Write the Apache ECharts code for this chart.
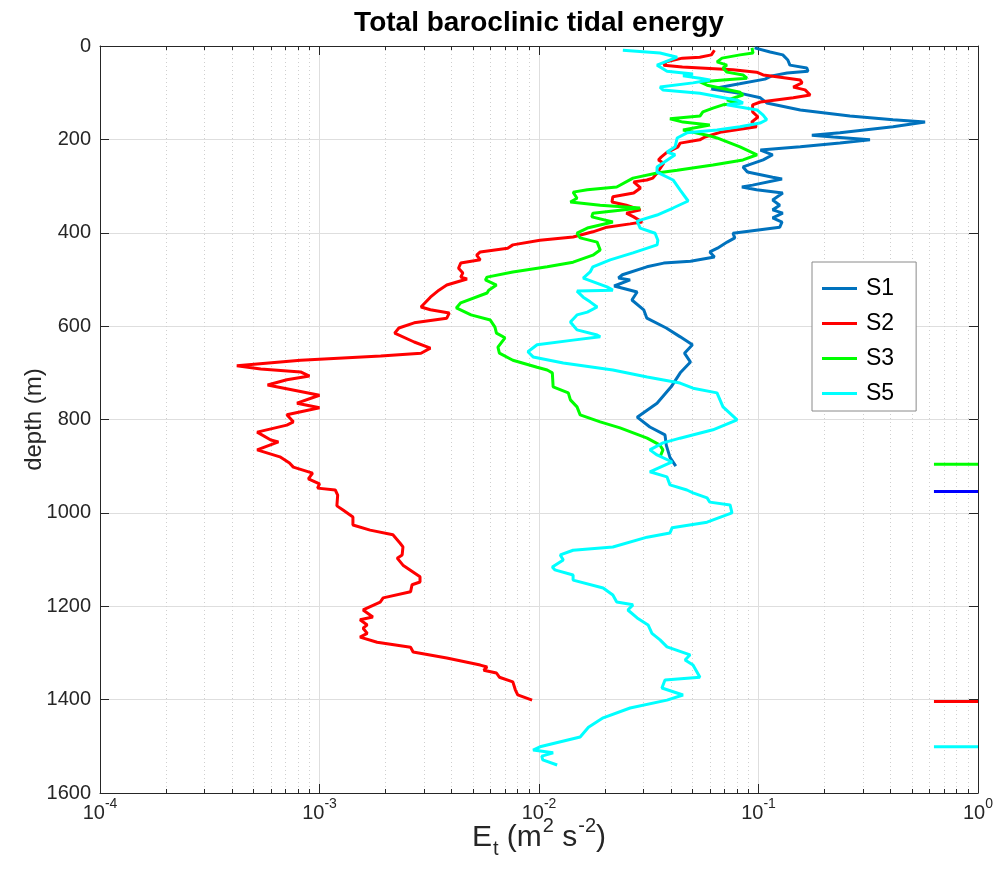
<!DOCTYPE html>
<html>
<head>
<meta charset="utf-8">
<script src="https://cdn.jsdelivr.net/npm/echarts@6/dist/echarts.min.js"></script>
<style>html,body{margin:0;padding:0;background:#fff}#chart{width:1000px;height:877px}</style>
</head>
<body>
<div id="chart"></div>
<script>
// ---------------- data ----------------
const s1Depth = [4,13,19,30,41,47,54,58,64,71,81,92,101,111,122,137,150,158,163,173,186,191,195,201,208,216,223,233,244,259,270,281,285,298,302,308,315,330,341,351,358,368,377,388,401,411,420,433,441,452,461,465,473,490,497,501,514,527,544,565,583,604,623,640,658,677,700,730,765,795,816,833,855,881,900];
const s1Energy = [0.096,0.113,0.129,0.136,0.139,0.166,0.168,0.135,0.115,0.107,0.082,0.061,0.082,0.102,0.109,0.155,0.261,0.41,0.574,0.41,0.235,0.175,0.219,0.322,0.235,0.155,0.102,0.116,0.105,0.085,0.089,0.116,0.128,0.094,0.084,0.098,0.129,0.116,0.125,0.116,0.129,0.116,0.128,0.125,0.0765,0.078,0.072,0.065,0.060,0.063,0.049,0.037,0.031,0.024,0.023,0.026,0.022,0.028,0.0265,0.030,0.031,0.038,0.044,0.050,0.046,0.049,0.044,0.040,0.0345,0.028,0.032,0.0375,0.038,0.0395,0.042];

const s2Depth = [9,19,24,26,34,41,45,51,56,62,66,73,79,88,94,105,111,120,126,141,152,163,173,184,195,201,208,216,229,238,244,251,272,283,287,291,304,315,323,334,341,351,358,366,377,381,388,398,409,416,426,433,441,448,458,465,476,486,495,499,512,523,538,559,565,572,583,593,604,615,634,647,658,664,673,685,692,698,707,715,726,748,765,775,790,805,812,827,844,848,865,880,893,902,915,927,938,947,951,962,985,994,1009,1026,1037,1047,1065,1073,1090,1097,1112,1137,1148,1154,1169,1182,1191,1208,1223,1229,1240,1247,1258,1266,1277,1288,1298,1311,1326,1330,1337,1343,1352,1362,1379,1390,1401];
const s2Energy = [0.063,0.061,0.054,0.045,0.038,0.037,0.045,0.0765,0.098,0.105,0.121,0.155,0.158,0.144,0.163,0.172,0.144,0.102,0.094,0.094,0.0995,0.093,0.098,0.068,0.057,0.054,0.044,0.043,0.038,0.036,0.035,0.037,0.0345,0.033,0.031,0.027,0.029,0.027,0.0217,0.0215,0.025,0.029,0.025,0.027,0.0295,0.026,0.0204,0.0176,0.0143,0.0101,0.0076,0.0072,0.0054,0.0052,0.0054,0.0044,0.0043,0.0045,0.0044,0.0047,0.0038,0.0035,0.0032,0.0029,0.0032,0.0039,0.0038,0.0027,0.0023,0.0022,0.0027,0.0032,0.0029,0.0019,0.00082,0.00042,0.00054,0.00082,0.0009,0.00071,0.00058,0.001,0.00079,0.001,0.00071,0.00076,0.00071,0.00052,0.0006,0.00065,0.00052,0.00066,0.00073,0.00076,0.00093,0.00089,0.001,0.00098,0.00118,0.00121,0.0012,0.00128,0.00142,0.00142,0.0017,0.00216,0.00233,0.0024,0.00238,0.00226,0.0024,0.00287,0.00287,0.00264,0.0026,0.00195,0.00189,0.00158,0.00175,0.00153,0.00165,0.00158,0.00165,0.00153,0.00183,0.0026,0.00267,0.0038,0.0054,0.0058,0.0056,0.0064,0.0066,0.0076,0.0078,0.008,0.0093];

const s3Depth = [4,15,19,26,34,41,47,56,62,69,73,77,84,99,105,116,122,126,133,141,150,156,163,169,180,191,197,216,233,244,255,266,272,283,302,308,313,326,334,341,347,358,366,377,390,401,411,420,437,448,463,473,484,495,501,512,523,529,550,561,576,587,602,615,625,645,658,673,688,694,700,730,743,758,773,790,805,818,840,855,865,880];
const s3Energy = [0.0934,0.0944,0.0824,0.0682,0.0647,0.0718,0.0689,0.0718,0.085,0.0886,0.0689,0.0541,0.0583,0.0824,0.085,0.0718,0.0824,0.0689,0.062,0.0558,0.0541,0.0395,0.0453,0.060,0.0453,0.0583,0.0647,0.0824,0.0985,0.085,0.062,0.0426,0.0345,0.0268,0.0226,0.0166,0.0143,0.0149,0.0139,0.019,0.0289,0.0176,0.0174,0.0217,0.0166,0.0149,0.0154,0.0184,0.019,0.0176,0.0143,0.0109,0.0076,0.0058,0.0057,0.0064,0.0059,0.0058,0.0044,0.0042,0.0049,0.006,0.0063,0.0064,0.007,0.0065,0.0066,0.0076,0.0098,0.0109,0.0115,0.0116,0.0136,0.0139,0.0149,0.0154,0.019,0.0234,0.0311,0.0356,0.0367,0.0356];

const s5Depth = [9,15,24,41,54,60,64,69,73,79,88,94,101,116,122,126,137,148,158,165,173,180,186,197,216,227,233,259,270,287,308,332,347,362,375,390,401,416,426,443,458,473,484,497,516,523,525,538,548,559,570,576,591,598,608,619,623,630,640,655,666,679,694,709,722,733,743,773,801,822,840,850,865,876,891,912,923,940,951,957,968,977,983,1000,1020,1032,1043,1052,1073,1080,1090,1101,1116,1122,1133,1144,1161,1176,1191,1197,1208,1225,1240,1258,1272,1287,1304,1315,1326,1352,1358,1375,1390,1401,1418,1439,1459,1480,1501,1508,1514,1521,1529,1540];
const s5Energy = [0.0241,0.0356,0.0426,0.0345,0.0383,0.0503,0.0453,0.0541,0.060,0.0503,0.0356,0.0367,0.0541,0.0799,0.085,0.0718,0.0985,0.105,0.109,0.1016,0.0824,0.0647,0.0472,0.0426,0.0417,0.0383,0.0417,0.0345,0.0345,0.0408,0.0439,0.0478,0.0408,0.0345,0.028,0.0289,0.0338,0.0348,0.0345,0.0268,0.0211,0.0176,0.0171,0.0159,0.0204,0.0217,0.0149,0.0159,0.0171,0.0184,0.0166,0.0149,0.0139,0.0143,0.0149,0.0184,0.019,0.0143,0.0098,0.0089,0.0094,0.0129,0.0217,0.0311,0.0439,0.0503,0.0647,0.0689,0.0799,0.062,0.0439,0.0367,0.032,0.0345,0.0404,0.032,0.0383,0.0395,0.0472,0.0503,0.0583,0.060,0.0742,0.0757,0.0583,0.0404,0.0395,0.0311,0.0217,0.0143,0.0125,0.0129,0.0115,0.0118,0.0143,0.0143,0.0196,0.0217,0.0226,0.0268,0.0254,0.028,0.0314,0.0327,0.0356,0.0383,0.0488,0.0463,0.0503,0.0541,0.0375,0.0363,0.0453,0.0383,0.026,0.0196,0.0168,0.0154,0.0101,0.0094,0.0116,0.0103,0.0104,0.0121];

// short bottom-depth marks at the right edge
const bottomDepths = [896, 954, 1404, 1501];
const bottomEnergyRange = [0.63, 1];

const seriesNames = ['S1', 'S2', 'S3', 'S5'];
const xTickDecades = [1e-4, 1e-3, 1e-2, 1e-1, 1];

// ---------------- styles ----------------
const FONT = '"Liberation Sans", Arial, Helvetica, sans-serif';
const seriesColors = ['#0072BD', '#FF0000', '#00FF00', '#00FFFF'];
const bottomColors = ['#00FF00', '#0000FF', '#FF0000', '#00FFFF'];
const AX = '#262626';

function zip(depths, energies) { return depths.map((d, i) => [energies[i], d]); }
const curves = [zip(s1Depth, s1Energy), zip(s2Depth, s2Energy), zip(s3Depth, s3Energy), zip(s5Depth, s5Energy)];

const series = curves.map((data, i) => ({
  type: 'line', name: seriesNames[i], data: data,
  xAxisIndex: 0, yAxisIndex: 0,
  showSymbol: false, symbol: 'none', z: 3,
  lineStyle: { color: seriesColors[i], width: 3 },
  itemStyle: { color: seriesColors[i] },
  emphasis: { disabled: true }
}));
bottomDepths.forEach((d, i) => {
  series.push({
    type: 'line', name: 'bottom' + i,
    data: [[bottomEnergyRange[0], d], [bottomEnergyRange[1], d]],
    xAxisIndex: 0, yAxisIndex: 0, showSymbol: false, symbol: 'none', z: 3,
    lineStyle: { color: bottomColors[i], width: 3 }, emphasis: { disabled: true }
  });
});

const tickRich = {
  b: { fontSize: 20, color: AX, fontFamily: FONT, verticalAlign: 'top', padding: [6, 0, 0, 0] },
  s: { fontSize: 14, color: AX, fontFamily: FONT, verticalAlign: 'top', padding: [0, 0, 0, 0] }
};
const nameRich = {
  e: { fontSize: 30, color: AX, fontFamily: FONT, verticalAlign: 'top', padding: [7, 0, 0, 0] },
  u: { fontSize: 20, color: AX, fontFamily: FONT, verticalAlign: 'top', padding: [0, 0, 0, 1] },
  t: { fontSize: 20, color: AX, fontFamily: FONT, verticalAlign: 'top', padding: [23, 0, 0, 1] }
};

function xAxisBase(pos, labels) {
  return {
    type: 'log', logBase: 10, min: xTickDecades[0], max: xTickDecades[xTickDecades.length - 1],
    position: pos,
    axisLine: { show: true, onZero: false, lineStyle: { color: AX, width: 1 } },
    axisTick: { show: true, inside: true, length: 9, lineStyle: { color: AX } },
    minorTick: { show: true, splitNumber: 9, length: 4, lineStyle: { color: AX } },
    axisLabel: labels ? {
      show: true, margin: 4,
      formatter: v => '{b|10}{s|' + Math.round(Math.log10(v)) + '}',
      rich: tickRich
    } : { show: false },
    splitLine: { show: labels, lineStyle: { color: '#dedede', width: 1 } },
    minorSplitLine: { show: labels, lineStyle: { color: '#cfcfcf', width: 1, type: [1, 3] } }
  };
}
const xBottom = xAxisBase('bottom', true);
xBottom.name = '{e|E}{t|t}{e| (m}{u|2}{e| s}{u|-2}{e|)}';
xBottom.nameLocation = 'middle';
xBottom.nameGap = 23;
xBottom.nameMoveOverlap = false;
xBottom.nameTextStyle = { rich: nameRich };

function yAxisBase(pos, labels) {
  return {
    type: 'value', inverse: true, min: 0, max: 1600, interval: 200, position: pos,
    axisLine: { show: true, onZero: false, lineStyle: { color: AX, width: 1 } },
    axisTick: { show: true, inside: true, length: 9, lineStyle: { color: AX } },
    axisLabel: labels ? { show: true, fontSize: 20, color: AX, fontFamily: FONT, margin: 9,
                          formatter: v => String(v) } : { show: false },
    splitLine: { show: labels, lineStyle: { color: '#dedede', width: 1 } }
  };
}
const yLeft = yAxisBase('left', true);
yLeft.name = 'depth (m)';
yLeft.nameLocation = 'middle';
yLeft.nameRotate = 90;
yLeft.nameGap = 54;
yLeft.nameMoveOverlap = false;
yLeft.nameTextStyle = { fontSize: 24, color: AX, fontFamily: FONT };

const option = {
  animation: false,
  backgroundColor: '#ffffff',
  textStyle: { fontFamily: FONT },
  grid: { left: 100, right: 22, top: 46, bottom: 84, containLabel: false },
  xAxis: [xBottom, xAxisBase('top', false)],
  yAxis: [yLeft, yAxisBase('right', false)],
  legend: {
    data: seriesNames, orient: 'vertical', left: 812, top: 262,
    icon: 'rect', itemWidth: 35, itemHeight: 3, itemGap: 12,
    padding: [15, 22, 6, 10],
    backgroundColor: '#ffffff', borderColor: '#8a8a8a', borderWidth: 1,
    textStyle: { fontSize: 23, color: '#000', fontFamily: FONT, padding: [0, 0, 0, 4] },
    selectedMode: false
  },
  graphic: [{
    type: 'text', x: 539, y: 23, z: 10,
    style: { text: 'Total baroclinic tidal energy', fill: '#000', align: 'center', verticalAlign: 'middle',
             font: 'bold 28px ' + FONT }
  }],
  series: series
};

const chart = echarts.init(document.getElementById('chart'), null, { renderer: 'canvas' });
chart.setOption(option);
</script>
</body>
</html>
